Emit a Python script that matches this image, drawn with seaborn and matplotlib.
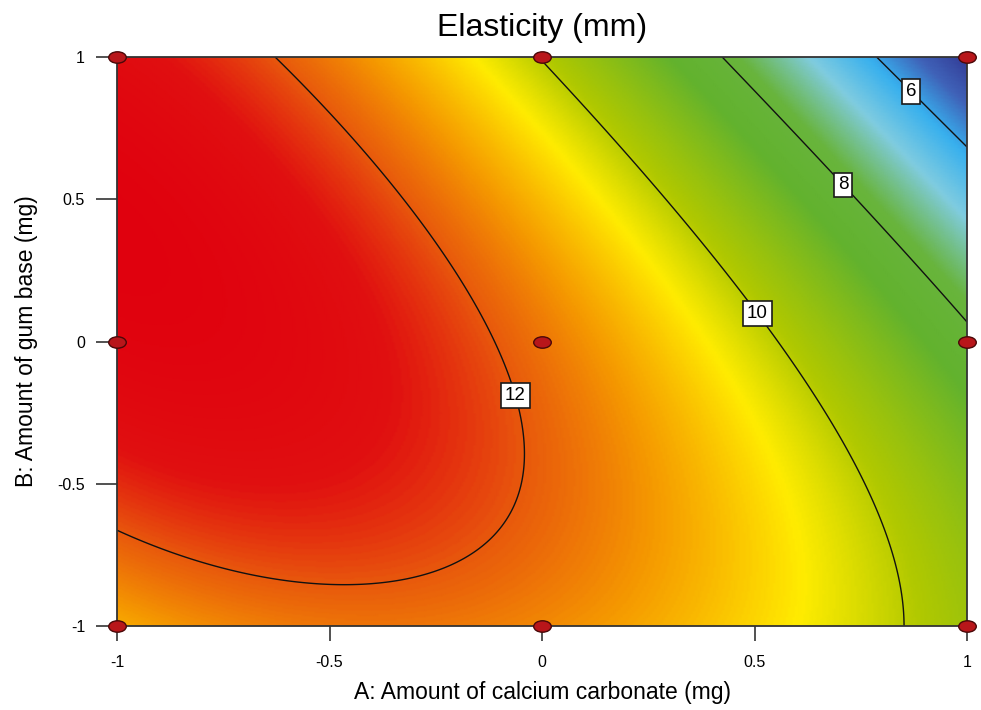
import numpy as np
import pandas as pd
import seaborn as sns
import matplotlib
matplotlib.use("Agg")
import matplotlib.pyplot as plt
from matplotlib.colors import LinearSegmentedColormap, Normalize
from matplotlib.path import Path

# ---------------- data ----------------
# points on each contour line (A, B)
c12_A = [-0.61, -0.428, -0.256, -0.153, -0.087, -0.068, -0.031, -0.056, -0.115, -0.216, -0.428, -0.664, -0.805, -1.0]
c12_B = [1.0, 0.708, 0.357, 0.122, -0.065, -0.135, -0.405, -0.60, -0.70, -0.79, -0.863, -0.827, -0.768, -0.698]
c10_A = [-0.021, 0.113, 0.318, 0.442, 0.544, 0.725, 0.826, 0.878, 0.908]
c10_B = [1.0, 0.778, 0.497, 0.24, 0.04, -0.311, -0.663, -0.84, -1.0]
c8_A = [0.411, 0.52, 0.72, 0.826, 1.0]
c8_B = [1.0, 0.824, 0.567, 0.357, 0.051]
c6_A = [0.776, 0.875, 1.0]
c6_B = [1.0, 0.888, 0.668]
# spot values estimated from the colour shading
spot_A = [-1.0, -1.0, -0.7, -1.0, -0.5, 0.0, 0.5, 0.7, 1.0, 1.0, 1.0, -0.5, 0.0, -1.0, -0.75]
spot_B = [1.0, 0.0, -0.2, -1.0, -1.0, -1.0, -0.9, -1.0, -1.0, -0.5, 1.0, 0.3, 0.0, 0.5, 0.5]
spot_Y = [12.7, 12.8, 12.8, 11.2, 11.7, 11.5, 10.6, 10.4, 9.6, 8.9, 4.8, 12.5, 11.75, 12.8, 12.8]

contour_levels = [6, 8, 10, 12]
label_pos_A = [0.875, 0.72, 0.525, -0.052]
label_pos_B = [0.888, 0.567, 0.118, -0.185]

design_A = [-1, -1, -1, 0, 0, 0, 1, 1, 1]
design_B = [-1, 0, 1, -1, 0, 1, -1, 0, 1]

tick_vals = [-1, -0.5, 0, 0.5, 1]
tick_labels = ["-1", "-0.5", "0", "0.5", "1"]

# colour stops (value, colour)
stop_vals = [4.8, 5.4, 6.1, 6.9, 7.8, 8.6, 9.9, 10.6, 11.4, 12.0, 12.5, 13.0]
stop_cols = ["#34409a", "#3f62b8", "#38b0ee", "#80cce0", "#68b43c", "#62b22e", "#b0c800",
             "#ffec00", "#f59a00", "#e85a0c", "#e01010", "#e0000e"]

# ---------------- surface fit from the readings ----------------
A_all = np.array(c12_A + c10_A + c8_A + c6_A + spot_A, float)
B_all = np.array(c12_B + c10_B + c8_B + c6_B + spot_B, float)
Y_all = np.array([12] * len(c12_A) + [10] * len(c10_A) + [8] * len(c8_A) + [6] * len(c6_A) + spot_Y, float)


def terms(a, b):
    return np.column_stack([np.ones_like(a), a, b, a * b, a ** 2, b ** 2,
                            a ** 2 * b, a * b ** 2, a ** 3, b ** 3])


coef, *_ = np.linalg.lstsq(terms(A_all, B_all), Y_all, rcond=None)

ga = np.linspace(-1, 1, 401)
gb = np.linspace(-1, 1, 401)
GA, GB = np.meshgrid(ga, gb)
Z = (terms(GA.ravel(), GB.ravel()) @ coef).reshape(GA.shape)

# ---------------- plot ----------------
sns.set_style("white")
plt.rcParams["font.family"] = ["Liberation Sans", "DejaVu Sans"]
plt.rcParams["axes.unicode_minus"] = False
plt.rcParams["text.color"] = "black"
plt.rcParams["axes.labelcolor"] = "black"
plt.rcParams["xtick.color"] = "black"
plt.rcParams["ytick.color"] = "black"

fig = plt.figure(figsize=(9.81, 7.10), dpi=100)
ax = fig.add_axes([117 / 981, 1 - 626 / 710, (967 - 117) / 981, (626 - 57) / 710])

vmin, vmax = stop_vals[0], stop_vals[-1]
pos = [(v - vmin) / (vmax - vmin) for v in stop_vals]
cmap = LinearSegmentedColormap.from_list("de", list(zip(pos, stop_cols)))
ax.pcolormesh(GA, GB, Z, cmap=cmap, norm=Normalize(vmin, vmax, clip=True), shading="gouraud", rasterized=True)

cs = ax.contour(GA, GB, Z, levels=contour_levels, colors="#111111", linewidths=1.0)
labels = ax.clabel(cs, fmt="%d", fontsize=13.5, inline=False,
                   manual=list(zip(label_pos_A, label_pos_B)))
for t in labels:
    t.set_rotation(0)
    t.set_color("black")
    t.set_zorder(4)
    t.set_bbox(dict(boxstyle="square,pad=0.2", fc="white", ec="#1a1a1a", lw=1.2))

ell = Path.unit_circle()
ell = Path(ell.vertices * np.array([1.0, 0.65]), ell.codes)
df = pd.DataFrame({"A": design_A, "B": design_B})
sns.scatterplot(data=df, x="A", y="B", marker=ell, s=160, color="#b8161a",
                edgecolor="#4a0808", linewidth=1.0, ax=ax, clip_on=False, zorder=5, legend=False)

ax.set_xlim(-1, 1)
ax.set_ylim(-1, 1)
ax.set_xticks(tick_vals)
ax.set_xticklabels(tick_labels)
ax.set_yticks(tick_vals)
ax.set_yticklabels(tick_labels)
ax.tick_params(axis="x", direction="out", length=11, width=1.2, color="#333333", labelsize=11.5, pad=10)
ax.tick_params(axis="y", direction="out", length=15, width=1.2, color="#333333", labelsize=11.5, pad=8)
ax.xaxis.set_ticks_position("bottom")
ax.yaxis.set_ticks_position("left")
for s in ax.spines.values():
    s.set_color("#333333")
    s.set_linewidth(1.3)

ax.set_xlabel("A: Amount of calcium carbonate (mg)", fontsize=16.5, labelpad=8)
ax.set_ylabel("B: Amount of gum base (mg)", fontsize=16.5, labelpad=14)
ax.set_title("Elasticity (mm)", fontsize=23, pad=15)

fig.savefig("out.png", dpi=100)
